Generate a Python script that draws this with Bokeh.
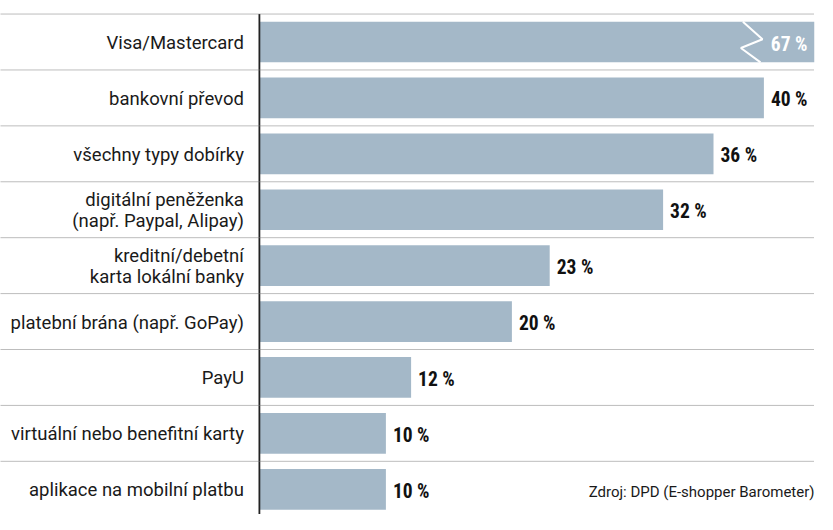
from bokeh.plotting import figure
from bokeh.models import Range1d, ColumnDataSource, Span
from bokeh.core.properties import value
from bokeh.embed import file_html
from bokeh.resources import INLINE

# ---- data ----
categories = [
    "Visa/Mastercard",
    "bankovní převod",
    "všechny typy dobírky",
    "digitální peněženka\n(např. Paypal, Alipay)",
    "kreditní/debetní\nkarta lokální banky",
    "platební brána (např. GoPay)",
    "PayU",
    "virtuální nebo benefitní karty",
    "aplikace na mobilní platbu",
]
shares = [67, 40, 36, 32, 23, 20, 12, 10, 10]
value_labels = ["67 %", "40 %", "36 %", "32 %", "23 %", "20 %", "12 %", "10 %", "10 %"]
source_note = "Zdroj: DPD (E-shopper Barometer)"

# ---- layout (pixels) ----
W, H = 817, 514
RIGHT_PAD = 3
FRAME_W = W - RIGHT_PAD
PX_PER_PCT = 12.60
ZERO_X = 259.4           # canvas x of the bars' start
ROW_H = 55.91
FIRST_ROW_C = 41.5       # canvas y of first row centre
BAR_FRAC = 0.728

x0 = -ZERO_X / PX_PER_PCT
x1 = (FRAME_W - ZERO_X) / PX_PER_PCT
y_top = -FIRST_ROW_C / ROW_H
y_bot = (H - FIRST_ROW_C) / ROW_H

n = len(categories)
idx = list(range(n))

BAR_COLOR = "#a4b8c8"
LABEL_FONT = value("Roboto")
VAL_FONT = value("Roboto Condensed, Open Sans Condensed, Noto Sans Condensed, Liberation Sans Narrow, Roboto")
VAL_SIZE = "19.5px"

p = figure(width=W, height=H, output_backend="svg", toolbar_location=None,
           x_range=Range1d(x0, x1), y_range=Range1d(y_bot, y_top),
           x_axis_location=None, y_axis_location=None,
           min_border=0, min_border_right=RIGHT_PAD, outline_line_color=None,
           border_fill_color="white", background_fill_color="white")
p.xgrid.visible = False
p.ygrid.visible = False

# dotted separators between rows
for k in range(n + 1):
    p.add_layout(Span(location=k - 0.5, dimension="width", line_color="#7a7a7a",
                      line_width=1, line_dash="1 1"))

src = ColumnDataSource(dict(y=idx, v=shares, cat=categories))

# bars (top bar is clipped at the frame edge, its value exceeds the scale)
p.hbar(y="y", left=0, right="v", height=BAR_FRAC, source=src,
       fill_color=BAR_COLOR, line_color=None)

# zero line
p.segment(x0=[-0.5 / PX_PER_PCT], y0=[-0.5], x1=[-0.5 / PX_PER_PCT], y1=[n + 1],
          line_color="#222222", line_width=1.8)

# category labels
p.text(x=0, y="y", text="cat", source=src, x_offset=-16, y_offset=1,
       text_align="right", text_baseline="middle", text_font=LABEL_FONT,
       text_font_size="18.5px", text_color="#1a1a1a", text_line_height=0.95)

# value labels for bars that fit
fit = [i for i in idx if shares[i] < x1]
src_fit = ColumnDataSource(dict(y=[idx[i] for i in fit], v=[shares[i] for i in fit],
                                lab=[value_labels[i] for i in fit]))
p.text(x="v", y="y", text="lab", source=src_fit, x_offset=7, y_offset=2,
       text_align="left", text_baseline="middle", text_font=VAL_FONT,
       text_font_style="bold", text_font_size=VAL_SIZE, text_color="#111111")

# overflowing bars: zigzag break + white value inside the bar
over = [i for i in idx if shares[i] >= x1]
for i in over:
    h = BAR_FRAC / 2
    xs = [x1 - 71.6 / PX_PER_PCT, x1 - 52 / PX_PER_PCT,
          x1 - 73.6 / PX_PER_PCT, x1 - 54 / PX_PER_PCT]
    ys = [i - h, i - 2.7 / ROW_H, i + 6 / ROW_H, i + h]
    p.line(x=xs, y=ys, line_color="white", line_width=2)
    p.text(x=[x1], y=[i], text=[value_labels[i]], x_offset=-7, y_offset=2,
           text_align="right", text_baseline="middle", text_font=VAL_FONT,
           text_font_style="bold", text_font_size=VAL_SIZE, text_color="white")

# source note
p.text(x=[x1], y=[n - 1], text=[source_note], x_offset=0, y_offset=3,
       text_align="right", text_baseline="middle", text_font=LABEL_FONT,
       text_font_size="15px", text_color="#1a1a1a")

open("out.html", "w").write(file_html(p, INLINE))
